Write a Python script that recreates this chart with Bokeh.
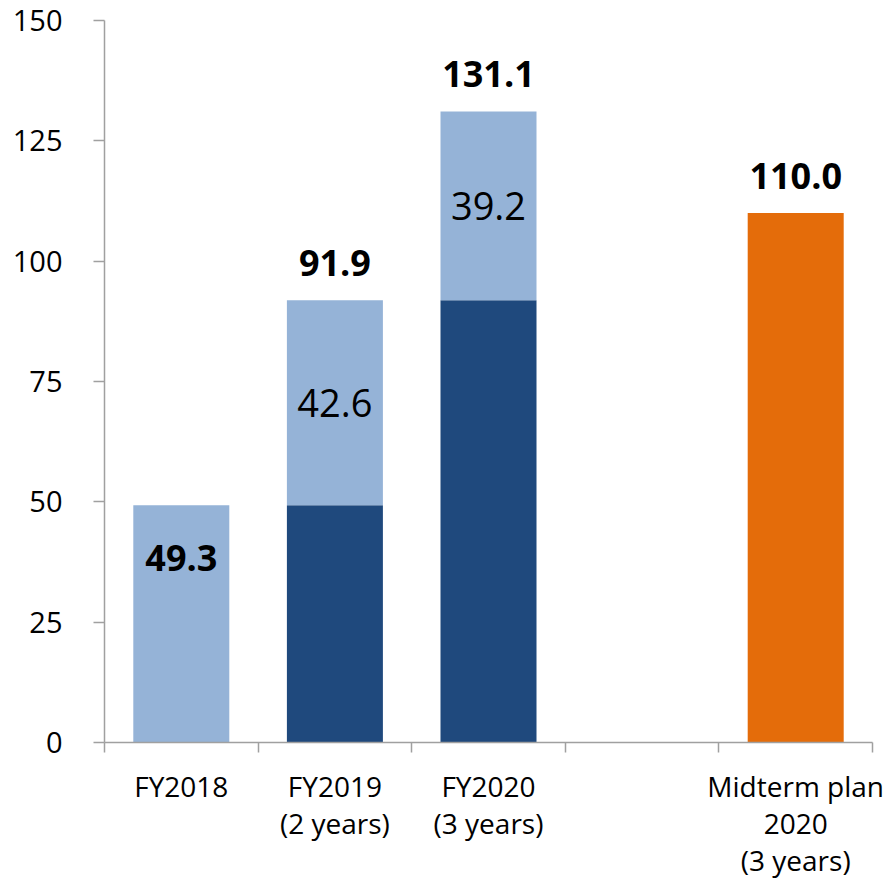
from bokeh.plotting import figure
from bokeh.models import Range1d, FixedTicker, ColumnDataSource, LinearAxis
from bokeh.core.properties import value
from bokeh.embed import file_html
from bokeh.resources import INLINE

# Category labels (slot 4 is an empty spacer before the plan bar)
categories = ["FY2018", "FY2019\n(2 years)", "FY2020\n(3 years)", "", "Midterm plan\n2020\n(3 years)"]

# Cumulative amount carried over from previous years (dark segment)
carried = [0.0, 49.3, 91.9]
# Amount added in the year itself (light segment)
added = [49.3, 42.6, 39.2]
# Cumulative totals shown above / in the bars
totals = [49.3, 91.9, 131.1]
# Midterm plan target
plan_value = 110.0

y_ticks = [0, 25, 50, 75, 100, 125, 150]

FONT = "Open Sans"
DARK = "#1F497D"
LIGHT = "#95B3D7"
ORANGE = "#E46C0A"
AXIS_GREY = "#A0A0A0"

n_slots = len(categories)
centers = [i + 0.5 for i in range(n_slots)]
bar_w = 0.625

p = figure(
    width=887, height=881,
    x_range=Range1d(0, n_slots), y_range=Range1d(0, 150),
    output_backend="svg", toolbar_location=None,
    min_border_left=104, min_border_right=15, min_border_top=20, min_border_bottom=138,
)
p.outline_line_color = None
p.xgrid.visible = False
p.ygrid.visible = False

year_x = centers[:3]
dark_src = ColumnDataSource(dict(x=year_x[1:], bottom=[0.0] * 2, top=carried[1:]))
light_src = ColumnDataSource(dict(
    x=year_x, bottom=carried, top=[c + a for c, a in zip(carried, added)]))

p.vbar(x="x", bottom="bottom", top="top", width=bar_w, source=dark_src,
       fill_color=DARK, line_color=None)
p.vbar(x="x", bottom="bottom", top="top", width=bar_w, source=light_src,
       fill_color=LIGHT, line_color=None)
p.vbar(x=[centers[4]], bottom=[0], top=[plan_value], width=bar_w,
       fill_color=ORANGE, line_color=None)

# Yearly additions, centred in the light segments (FY2019, FY2020)
mid_src = ColumnDataSource(dict(
    x=year_x[1:],
    y=[c + a / 2 for c, a in zip(carried[1:], added[1:])],
    t=[f"{a:.1f}" for a in added[1:]]))
p.text(x="x", y="y", text="t", source=mid_src, text_font=value(FONT),
       text_font_size="38px", text_align="center", text_baseline="middle",
       text_color="black")

# Totals above the bars
top_src = ColumnDataSource(dict(
    x=year_x[1:] + [centers[4]],
    y=totals[1:] + [plan_value],
    t=[f"{v:.1f}" for v in totals[1:] + [plan_value]]))
p.text(x="x", y="y", text="t", source=top_src, text_font=value(FONT),
       text_font_size="36px", text_font_style="bold", text_align="center",
       text_baseline="middle", text_color="black", y_offset=-37)

# FY2018 total sits inside its bar
p.text(x=[year_x[0]], y=[totals[0]], text=[f"{totals[0]:.1f}"], text_font=value(FONT),
       text_font_size="36px", text_font_style="bold", text_align="center",
       text_baseline="middle", text_color="black", y_offset=53)

# Y axis
ya = p.yaxis[0]
ya.ticker = FixedTicker(ticks=y_ticks)
ya.axis_line_color = AXIS_GREY
ya.axis_line_width = 1.5
ya.major_tick_line_color = AXIS_GREY
ya.major_tick_line_width = 1.5
ya.major_tick_out = 11
ya.major_tick_in = 0
ya.minor_tick_line_color = None
ya.major_label_standoff = 31
ya.major_label_text_font = FONT
ya.major_label_text_font_size = "29px"
ya.major_label_text_color = "black"

# X axis: tick marks at slot boundaries only
xa = p.xaxis[0]
xa.ticker = FixedTicker(ticks=list(range(n_slots + 1)), minor_ticks=[])
xa.axis_line_color = AXIS_GREY
xa.axis_line_width = 1.5
xa.major_tick_line_color = AXIS_GREY
xa.major_tick_line_width = 1.5
xa.major_tick_out = 10
xa.major_tick_in = 0
xa.minor_tick_line_color = None
xa.major_label_standoff = 0
xa.major_label_text_font_size = "0px"
xa.major_label_text_color = None

# Category names: one label-only axis per text line, stacked below
split = [lab.split("\n") if lab else [] for lab in categories]
n_lines = max(len(s) for s in split)
standoffs = [14, -4, -4]
for k in range(n_lines):
    lines = {c: parts[k] for c, parts in zip(centers, split) if k < len(parts)}
    ax = LinearAxis(
        ticker=FixedTicker(ticks=list(lines.keys()), minor_ticks=[]),
        major_label_overrides=lines,
        axis_line_color=None, major_tick_line_color=None, minor_tick_line_color=None,
        major_tick_out=0, major_tick_in=0,
        major_label_standoff=standoffs[k],
        major_label_text_font=FONT, major_label_text_font_size="28px",
        major_label_text_color="black",
    )
    p.add_layout(ax, "below")

open("out.html", "w").write(file_html(p, INLINE))
